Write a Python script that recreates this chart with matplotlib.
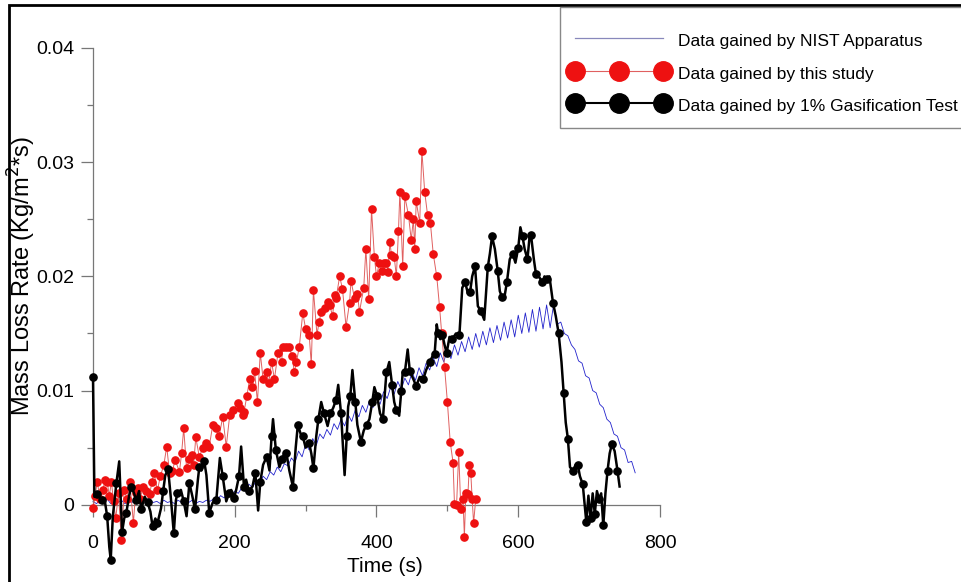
import matplotlib
matplotlib.use("Agg")
import matplotlib.pyplot as plt
from matplotlib.lines import Line2D
from matplotlib.patches import Rectangle
import numpy as np

plt.rcParams['font.family'] = ['Liberation Sans', 'DejaVu Sans']

# ---------------- data ----------------
blue_t = list(range(0, 770, 5))
blue_v = [0.0003, 0.0001, 0.0004, 0.0002, 0.0005, 0.0001, 0.0003, 0.0002, 0.0004, 0.0001,
          0.0003, 0.0002, 0.0005, 0.0001, 0.0003, 0.0002, 0.0004, 0.0002, 0.0003, 0.0001,
          0.0004, 0.0002, 0.0003, 0.0001, 0.0004, 0.0002, 0.0003, 0.0002, 0.0004, 0.0001,
          0.0003, 0.0002, 0.0004, 0.0003, 0.0005, 0.0004, 0.0008, 0.0006, 0.0010, 0.0007,
          0.0012, 0.0010, 0.0015, 0.0012, 0.0018, 0.0015, 0.0021, 0.0018, 0.0025, 0.0022,
          0.0029, 0.0026, 0.0033, 0.0029, 0.0036, 0.0034, 0.0041, 0.0037, 0.0047, 0.0042,
          0.0053, 0.0048, 0.0058, 0.0052, 0.0062, 0.0058, 0.0066, 0.0061, 0.0071, 0.0066,
          0.0075, 0.0069, 0.0079, 0.0073, 0.0083, 0.0077, 0.0087, 0.0081, 0.0091, 0.0085,
          0.0094, 0.0088, 0.0099, 0.0093, 0.0103, 0.0097, 0.0108, 0.0101, 0.0111, 0.0105,
          0.0116, 0.0109, 0.0120, 0.0113, 0.0124, 0.0118, 0.0129, 0.0121, 0.0133, 0.0125,
          0.0137, 0.0128, 0.0140, 0.0131, 0.0143, 0.0134, 0.0147, 0.0136, 0.0150, 0.0138,
          0.0152, 0.0140, 0.0155, 0.0142, 0.0157, 0.0144, 0.0160, 0.0146, 0.0162, 0.0147,
          0.0166, 0.0150, 0.0168, 0.0151, 0.0171, 0.0152, 0.0173, 0.0154, 0.0175, 0.0155,
          0.0176, 0.0158, 0.0160, 0.0150, 0.0148, 0.0140, 0.0136, 0.0126, 0.0124, 0.0113,
          0.0111, 0.0100, 0.0098, 0.0088, 0.0085, 0.0075, 0.0072, 0.0062, 0.0060, 0.0050,
          0.0048, 0.0037, 0.0038, 0.0028]

red_t = [0, 3, 6, 10, 14, 17, 20, 23, 26, 29, 32, 36, 40, 44, 48, 52, 57, 60, 63, 67,
         70, 75, 80, 83, 86, 91, 95, 100, 104, 108, 112, 116, 122, 125, 128, 132, 136, 139, 142, 145,
         150, 155, 160, 164, 169, 174, 178, 183, 188, 193, 198, 204, 208, 211, 213, 217, 221, 225, 228, 232,
         236, 240, 245, 248, 252, 256, 261, 266, 268, 272, 277, 281, 284, 287, 291, 296, 300, 305, 308, 311,
         316, 319, 322, 327, 331, 334, 338, 341, 343, 348, 352, 357, 362, 364, 369, 373, 376, 382, 385, 389,
         393, 397, 400, 404, 408, 411, 414, 416, 419, 421, 425, 428, 431, 433, 437, 440, 445, 449, 452, 454,
         456, 461, 464, 468, 472, 476, 480, 485, 489, 492, 496, 500, 504, 508, 510, 513, 516, 519, 522, 524,
         526, 529, 531, 533, 535, 537, 540]
red_v = [-0.0003, 0.0008, 0.0020, 0.0005, 0.0013, 0.0022, 0.0020, 0.0008, 0.0020, 0.0003,
         -0.0012, 0.0010, -0.0031, 0.0013, 0.0005, 0.0020, -0.0016, 0.0010, 0.0015, 0.0005,
         0.0016, 0.0012, 0.0009, 0.0020, 0.0028, 0.0013, 0.0025, 0.0035, 0.0051, 0.0028,
         0.0030, 0.0039, 0.0029, 0.0045, 0.0067, 0.0032, 0.0040, 0.0044, 0.0035, 0.0059,
         0.0042, 0.0050, 0.0054, 0.0051, 0.0070, 0.0067, 0.0060, 0.0077, 0.0051, 0.0079,
         0.0083, 0.0089, 0.0085, 0.0079, 0.0081, 0.0095, 0.0110, 0.0103, 0.0117, 0.0090,
         0.0133, 0.0110, 0.0116, 0.0107, 0.0125, 0.0110, 0.0133, 0.0125, 0.0138, 0.0138,
         0.0138, 0.0130, 0.0116, 0.0125, 0.0138, 0.0168, 0.0154, 0.0149, 0.0123, 0.0188,
         0.0149, 0.0160, 0.0169, 0.0172, 0.0178, 0.0175, 0.0165, 0.0184, 0.0181, 0.0200,
         0.0189, 0.0156, 0.0177, 0.0196, 0.0181, 0.0185, 0.0169, 0.0190, 0.0224, 0.0180,
         0.0259, 0.0217, 0.0200, 0.0212, 0.0205, 0.0212, 0.0212, 0.0204, 0.0230, 0.0219,
         0.0217, 0.0200, 0.0240, 0.0274, 0.0209, 0.0270, 0.0254, 0.0232, 0.0250, 0.0224,
         0.0266, 0.0247, 0.0310, 0.0274, 0.0254, 0.0247, 0.0220, 0.0200, 0.0173, 0.0150,
         0.0121, 0.0090, 0.0055, 0.0037, 0.0001, 0.0000, 0.0046, -0.0004, 0.0005, -0.0028,
         0.0010, 0.0009, 0.0035, 0.0028, 0.0005, -0.0016, 0.0005]

black_t = [0, 2, 5, 9, 13, 16, 20, 23, 25, 28, 33, 37, 41, 44, 47, 51, 54, 58, 61, 65,
           68, 73, 77, 81, 84, 88, 91, 96, 99, 102, 106, 110, 114, 117, 119, 124, 128, 132, 136, 140,
           144, 148, 150, 153, 157, 160, 164, 169, 174, 179, 183, 188, 192, 195, 199, 202, 206, 209, 213, 216,
           220, 225, 229, 233, 236, 240, 245, 249, 252, 254, 258, 263, 267, 270, 273, 277, 282, 286, 289, 293,
           296, 300, 305, 308, 311, 315, 318, 322, 326, 331, 335, 339, 343, 346, 350, 355, 358, 360, 363, 366,
           370, 373, 378, 382, 386, 390, 394, 397, 401, 405, 409, 412, 414, 418, 422, 425, 428, 432, 435, 437,
           440, 444, 447, 452, 456, 461, 466, 470, 475, 479, 482, 485, 487, 490, 493, 496, 499, 503, 507, 512,
           517, 521, 525, 529, 532, 535, 539, 543, 547, 552, 557, 560, 563, 567, 571, 574, 577, 580, 584, 588,
           592, 596, 600, 603, 606, 609, 613, 616, 618, 622, 625, 630, 634, 637, 641, 644, 649, 653, 657, 661,
           664, 667, 670, 673, 677, 681, 684, 687, 691, 694, 696, 699, 702, 705, 708, 711, 714, 717, 720, 723,
           726, 729, 732, 736, 740, 743]
black_v = [0.0112, 0.0007, 0.0009, 0.0007, 0.0004, 0.0006, -0.0010, -0.0037, -0.0048, -0.0010,
           0.0019, 0.0038, -0.0024, -0.0012, -0.0007, 0.0008, 0.0016, 0.0010, 0.0004, 0.0012,
           -0.0004, 0.0007, 0.0002, -0.0006, -0.0019, -0.0012, -0.0016, -0.0003, 0.0012, 0.0026,
           0.0031, 0.0005, -0.0025, 0.0004, 0.0010, 0.0013, 0.0003, -0.0010, 0.0019, 0.0008,
           -0.0004, 0.0022, 0.0033, 0.0030, 0.0038, 0.0026, -0.0007, 0.0002, 0.0004, 0.0041,
           0.0025, 0.0003, 0.0010, 0.0013, 0.0006, 0.0013, 0.0025, 0.0051, 0.0016, 0.0022,
           0.0012, 0.0016, 0.0028, -0.0005, 0.0020, 0.0035, 0.0042, 0.0030, 0.0060, 0.0075,
           0.0048, 0.0033, 0.0040, 0.0045, 0.0045, 0.0030, 0.0016, 0.0050, 0.0070, 0.0062,
           0.0060, 0.0050, 0.0054, 0.0045, 0.0032, 0.0060, 0.0075, 0.0090, 0.0080, 0.0069,
           0.0080, 0.0085, 0.0092, 0.0105, 0.0080, 0.0026, 0.0060, 0.0086, 0.0095, 0.0118,
           0.0090, 0.0070, 0.0055, 0.0065, 0.0070, 0.0075, 0.0090, 0.0103, 0.0095, 0.0080,
           0.0075, 0.0100, 0.0116, 0.0125, 0.0105, 0.0090, 0.0083, 0.0078, 0.0100, 0.0116,
           0.0116, 0.0136, 0.0117, 0.0110, 0.0104, 0.0112, 0.0110, 0.0118, 0.0125, 0.0130,
           0.0132, 0.0158, 0.0150, 0.0145, 0.0149, 0.0140, 0.0133, 0.0147, 0.0145, 0.0150,
           0.0149, 0.0190, 0.0195, 0.0185, 0.0186, 0.0200, 0.0209, 0.0174, 0.0170, 0.0162,
           0.0208, 0.0220, 0.0235, 0.0224, 0.0205, 0.0187, 0.0182, 0.0180, 0.0195, 0.0215,
           0.0220, 0.0212, 0.0225, 0.0243, 0.0235, 0.0224, 0.0215, 0.0235, 0.0236, 0.0215,
           0.0202, 0.0199, 0.0195, 0.0200, 0.0198, 0.0200, 0.0177, 0.0165, 0.0150, 0.0125,
           0.0098, 0.0072, 0.0058, 0.0033, 0.0030, 0.0035, 0.0035, 0.0025, 0.0018, -0.0002,
           -0.0015, 0.0008, -0.0012, 0.0010, -0.0008, 0.0012, 0.0005, 0.0010, -0.0018, 0.0010,
           0.0030, 0.0045, 0.0053, 0.0047, 0.0030, 0.0016]

x_ticks = [0, 200, 400, 600, 800]
x_ticklabels = ['0', '200', '400', '600', '800']
y_ticks = [0, 0.01, 0.02, 0.03, 0.04]
y_ticklabels = ['0', '0.01', '0.02', '0.03', '0.04']

labels = ['Data gained by NIST Apparatus', 'Data gained by this study',
          'Data gained by 1% Gasification Test']

# ---------------- figure ----------------
W, H = 962, 582
fig = plt.figure(figsize=(W / 100, H / 100), dpi=100)
ax_w, ax_h = 567, 579 - 48
ax = fig.add_axes([93 / W, 1 - 579 / H, ax_w / W, ax_h / H])
ax.set_xlim(0, 800)
ax.set_ylim(-0.0065, 0.04)

ax.plot(blue_t, blue_v, color='#2222cc', lw=0.6, clip_on=False, zorder=2)
ax.plot(red_t, red_v, color='#e06060', lw=0.7, marker='o', ms=5.2,
        mfc='#ee1111', mec='#ee1111', clip_on=False, zorder=3)
ax.plot(black_t, black_v, color='black', lw=1.8, marker='o', ms=5.2,
        markevery=2, clip_on=False, zorder=4)

for s in ['top', 'right']:
    ax.spines[s].set_visible(False)
ax.spines['bottom'].set_position(('data', 0))
ax.spines['bottom'].set_bounds(0, 800)
ax.spines['left'].set_bounds(0, 0.04)
axis_col = '#777777'
for s in ['bottom', 'left']:
    ax.spines[s].set_color(axis_col)
    ax.spines[s].set_linewidth(0.9)

ax.set_xticks(x_ticks)
ax.set_xticklabels(x_ticklabels)
ax.set_yticks(y_ticks)
ax.set_yticklabels(y_ticklabels)
ax.set_xticks([100, 300, 500, 700], minor=True)
ax.set_yticks([0.005, 0.015, 0.025, 0.035], minor=True)
ax.tick_params(which='major', length=8.6, width=0.9, color=axis_col, labelsize=14)
ax.tick_params(which='minor', length=4.3, width=0.9, color=axis_col)
ax.tick_params(axis='x', which='major', pad=13)
ax.tick_params(axis='y', which='major', pad=5)

ax.set_xlabel('Time (s)', fontsize=15)
ax.xaxis.set_label_coords((385 - 93) / ax_w, (579 - 557) / ax_h)
ax.set_ylabel('Mass Loss Rate (Kg/m$^2$*s)', fontsize=17)
ax.yaxis.set_label_coords((38 - 93) / ax_w, (579 - 276) / ax_h)

# legend box
fig.patches.append(Rectangle((560 / W, 1 - 128 / H), 0.6, (128 - 7) / H,
                             transform=fig.transFigure, fill=True, facecolor='white',
                             edgecolor='#888888', lw=1.0, zorder=5))
handles = [Line2D([], [], color='#8888bb', lw=0.9),
           Line2D([], [], color='#e06060', lw=0.8, marker='o', ms=14,
                  mfc='#ee1111', mec='#ee1111'),
           Line2D([], [], color='black', lw=1.5, marker='o', ms=14,
                  mfc='black', mec='black')]
fs = 12.5
fs_px = fs * 100 / 72
leg = fig.legend(handles, labels, loc='upper left',
                 bbox_to_anchor=(570 / W, 1 - 30 / H), bbox_transform=fig.transFigure,
                 fontsize=fs, numpoints=3, handlelength=98.4 / fs_px,
                 handletextpad=0.55, handleheight=1.4,
                 labelspacing=0.73, borderpad=0, borderaxespad=0,
                 frameon=False)
leg.set_zorder(6)

# outer frame
fig.patches.append(Rectangle((9 / W, -0.05), 1.2, 1 - 5 / H + 0.05,
                             transform=fig.transFigure, fill=False,
                             edgecolor='black', lw=2))

fig.savefig('out.png', dpi=100)
